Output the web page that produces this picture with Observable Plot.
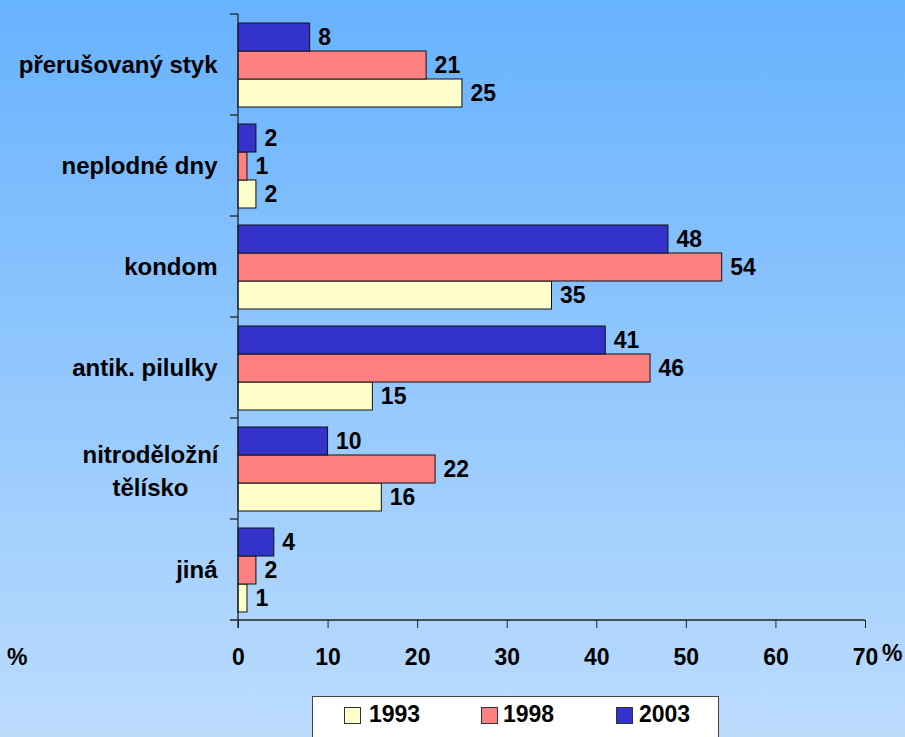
<!DOCTYPE html>
<html><head><meta charset="utf-8">
<script src="https://cdn.jsdelivr.net/npm/d3@7"></script>
<script src="https://cdn.jsdelivr.net/npm/@observablehq/plot@0.6"></script>
<style>
html,body{margin:0;padding:0;}
body{width:905px;height:737px;overflow:hidden;position:relative;
  background:linear-gradient(#67b2fe,#bcdcfd);
  font-family:"Liberation Sans",Arial,sans-serif;font-weight:bold;color:#000;}
#chart{position:absolute;left:0;top:0;}
.pct{position:absolute;font-size:23px;line-height:1;}
#legend{position:absolute;left:312px;top:696px;width:407px;height:60px;background:#fff;
  border:1px solid #444;box-sizing:border-box;}
.sw{position:absolute;top:10px;width:17px;height:17px;box-sizing:border-box;border:1px solid #333;}
.lab{position:absolute;top:6px;font-size:23px;line-height:1;}
</style></head>
<body>
<div id="chart"></div>
<div class="pct" style="left:7px;top:646px;">%</div>
<div class="pct" style="left:882px;top:642px;">%</div>
<div id="legend"></div>
<script>
const categories = ["přerušovaný styk","neplodné dny","kondom","antik. pilulky","nitroděložní tělísko","jiná"];
const categoryLabels = ["přerušovaný styk","neplodné dny","kondom","antik. pilulky","nitroděložní\ntělísko","jiná"];
const years = ["1993","1998","2003"];
const v1993 = [25,2,35,15,16,1];
const v1998 = [21,1,54,46,22,2];
const v2003 = [8,2,48,41,10,4];
const yearColors = ["#ffffcc","#ff8080","#3333cc"];
const xTicks = [0,10,20,30,40,50,60,70];

const series = {"1993": v1993, "1998": v1998, "2003": v2003};
const rows = categories.flatMap((c, i) => years.map(y => ({category: c, year: y, value: series[y][i]})));
const catRows = categories.map((c, i) => ({category: c, label: categoryLabels[i], multi: categoryLabels[i].includes("\n")}));

const fontFam = "'Liberation Sans', Arial, sans-serif";

const plot = Plot.plot({
  width: 905, height: 737,
  marginLeft: 238, marginRight: 40, marginTop: 13, marginBottom: 116,
  style: {background: "transparent", fontFamily: fontFam, fontWeight: "bold", fontSize: "23px", color: "#000", overflow: "visible"},
  x: {domain: [0, 70], axis: null},
  fy: {domain: categories, padding: 0, axis: null},
  y: {domain: ["2003","1998","1993"], paddingInner: 0, paddingOuter: 0.3, axis: null},
  color: {domain: years, range: yearColors},
  marks: [
    Plot.barX(rows, {x: "value", y: "year", fy: "category", fill: "year", stroke: "#111", strokeWidth: 1}),
    Plot.text(rows, {x: "value", y: "year", fy: "category", text: d => String(d.value), textAnchor: "start", dx: 8, fontSize: 23, fontWeight: "bold", fill: "#000"}),
    Plot.text(catRows.filter(d => !d.multi), {fy: "category", text: "label", frameAnchor: "left", textAnchor: "end", dx: -21, fontSize: 24, fontWeight: "bold", fill: "#000"}),
    Plot.text(catRows.filter(d => d.multi), {fy: "category", text: "label", frameAnchor: "left", textAnchor: "middle", dx: -88, lineHeight: 1.35, fontSize: 24, fontWeight: "bold", fill: "#000"}),
    Plot.axisX({ticks: xTicks, tickSize: 8, tickPadding: 20, tickFormat: d => String(d), label: null, fontSize: 23, fontWeight: "bold", stroke: "#222", fill: "#000"})
  ]
});

// axis lines and category boundary ticks from the library's scales
const xs = plot.scale("x");
const fys = plot.scale("fy");
const svg = d3.select(plot);
const x0 = xs.apply(0), x70 = xs.apply(70);
const yTop = fys.apply(categories[0]);
const yBottom = fys.apply(categories[categories.length - 1]) + fys.bandwidth;
const g = svg.append("g").attr("stroke", "#222").attr("stroke-width", 1.3);
g.append("line").attr("x1", x0).attr("x2", x0).attr("y1", yTop).attr("y2", yBottom + 8);
g.append("line").attr("x1", x0 - 8).attr("x2", x70).attr("y1", yBottom).attr("y2", yBottom);
categories.forEach(c => {
  const yy = fys.apply(c);
  g.append("line").attr("x1", x0 - 8).attr("x2", x0).attr("y1", yy).attr("y2", yy);
});

document.getElementById("chart").appendChild(plot);

// legend
const legend = d3.select("#legend");
const swX = [31, 168, 303], labX = [56, 190, 326];
years.forEach((y, i) => {
  legend.append("div").attr("class", "sw").style("left", swX[i] + "px").style("background", yearColors[i]);
  legend.append("div").attr("class", "lab").style("left", labX[i] + "px").text(y);
});
</script>
</body></html>
